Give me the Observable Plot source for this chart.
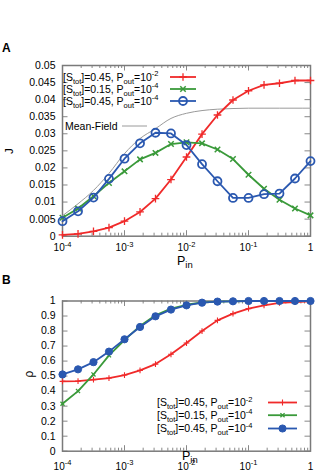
<!DOCTYPE html>
<html><head><meta charset="utf-8">
<script src="https://cdn.jsdelivr.net/npm/d3@7"></script>
<script src="https://cdn.jsdelivr.net/npm/@observablehq/plot@0.6"></script>
<style>
body{margin:0;background:#fff;font-family:"Liberation Sans",Arial,sans-serif}
#c svg{display:block}
</style>
</head><body><div id="c"></div>
<script>
// ---------- data ----------
const pin = [0.0001, 0.000178, 0.000316, 0.000562, 0.001, 0.00178, 0.00316, 0.00562, 0.01, 0.0178, 0.0316, 0.0562, 0.1, 0.178, 0.316, 0.562, 1];
// Panel A : J
const jRed   = [0.0004,0.0007,0.0014,0.0025,0.0044,0.0071,0.011,0.0166,0.0232,0.0299,0.0355,0.0399,0.0426,0.0443,0.0448,0.0456,0.0456];
const jGreen = [0.0054,0.0081,0.0117,0.0156,0.019,0.0225,0.0244,0.027,0.0275,0.0272,0.0254,0.0226,0.018,0.0139,0.0107,0.0081,0.0061];
const jBlue  = [0.0044,0.0073,0.0113,0.0168,0.0227,0.0272,0.0303,0.0301,0.0267,0.0211,0.0161,0.0112,0.0112,0.0123,0.0125,0.0169,0.022];
const mfJ    = [0.006,0.0095,0.0134,0.0184,0.0242,0.0286,0.0315,0.0345,0.036,0.0368,0.0372,0.0374,0.0375,0.0375,0.0375,0.0375,0.0375];
// Panel B : rho
const rRed   = [0.465,0.467,0.476,0.487,0.507,0.538,0.58,0.645,0.72,0.8,0.871,0.916,0.949,0.971,0.987,0.993,0.997];
const rGreen = [0.316,0.4,0.511,0.638,0.74,0.834,0.905,0.95,0.975,0.99,0.996,0.998,1,1,1,1,1];
const rBlue  = [0.511,0.545,0.593,0.663,0.745,0.827,0.898,0.943,0.971,0.989,0.996,0.998,1,1,1,1,1];
// ticks
const xTicks = [0.0001, 0.001, 0.01, 0.1, 1];
const xTickLabels = ["10^-4", "10^-3", "10^-2", "10^-1", "1"];
const yTicksA = [0,0.005,0.01,0.015,0.02,0.025,0.03,0.035,0.04,0.045,0.05];
const yTickLabelsA = ["0","0.005","0.01","0.015","0.02","0.025","0.03","0.035","0.04","0.045","0.05"];
const yTicksB = [0,0.1,0.2,0.3,0.4,0.5,0.6,0.7,0.8,0.9,1];
const yTickLabelsB = ["0","0.1","0.2","0.3","0.4","0.5","0.6","0.7","0.8","0.9","1"];
// legend
const seriesLabels = [
  [["[S",""],["tot","sub"],["]=0.45, P",""],["out","sub"],["=10",""],["-2","sup"]],
  [["[S",""],["tot","sub"],["]=0.15, P",""],["out","sub"],["=10",""],["-4","sup"]],
  [["[S",""],["tot","sub"],["]=0.45, P",""],["out","sub"],["=10",""],["-4","sup"]]
];
const mfLabel = "Mean-Field";
const colors = ["#f02a2a", "#3a9a3a", "#2a58b0"];
const GRAY = "#9a9a9a";
const FRAME = "#7a7a7a";

// ---------- helpers ----------
const W = 319, ML = 62, MR = 9;
const FONT = "Liberation Sans, Arial, sans-serif";
const xMinor = [];
for (const d of [0.0001, 0.001, 0.01, 0.1]) for (let k = 2; k <= 9; k++) xMinor.push(+(d*k).toPrecision(3));

function rich(sel, parts, small) {
  let shift = 0;
  for (const [s, k] of parts) {
    const target = k === "sub" ? 3 : k === "sup" ? -4.5 : 0;
    const t = sel.append("tspan").attr("dy", target - shift).text(s);
    if (k) t.attr("font-size", small);
    shift = target;
  }
}

function panel(o) {
  const fh = o.height - o.mt - o.mb, fw = W - ML - MR;
  const tick = {stroke: FRAME, strokeWidth: 0.9};
  const marks = [
    Plot.ruleX(xMinor, {insetTop: fh - 3, ...tick}),
    Plot.ruleX(xMinor, {insetBottom: fh - 3, ...tick}),
    Plot.ruleX(xTicks, {insetTop: fh - 5.5, ...tick}),
    Plot.ruleX(xTicks, {insetBottom: fh - 5.5, ...tick}),
    Plot.ruleY(o.yTicks, {insetRight: fw - 5.5, ...tick}),
    Plot.ruleY(o.yTicks, {insetLeft: fw - 5.5, ...tick}),
    Plot.frame({stroke: FRAME, strokeWidth: 1.5}),
    Plot.axisY({ticks: o.yTicks, tickSize: 0, tickPadding: 7, fontSize: 10.5,
      tickFormat: (d) => o.yLabels[o.yTicks.indexOf(d)], label: null}),
    Plot.axisX({ticks: xTicks, tickSize: 0, tickPadding: o.xPad, fontSize: 10,
      tickFormat: (d) => xTickLabels[xTicks.indexOf(d)], label: null}),
    ...o.marks
  ];
  const chart = Plot.plot({
    width: W, height: o.height, marginTop: o.mt, marginBottom: o.mb, marginLeft: ML, marginRight: MR,
    style: {fontFamily: FONT, fontSize: "10.5px", background: "white", color: "#000", overflow: "visible"},
    x: {type: "log", domain: [1e-4, 1]},
    y: {domain: o.yDomain},
    marks
  });
  const svg = d3.select(chart);
  svg.selectAll('[aria-label="x-axis tick label"] text').each(function () {
    const s = this.textContent;
    if (s.startsWith("10^")) {
      const t = d3.select(this);
      t.text("");
      rich(t, [["10", ""], [s.slice(3), "sup"]], 7.5);
    }
  });
  return {chart, svg};
}

function series(ys, i, sym, r, sw, fill) {
  const data = pin.map((x, k) => ({x, y: ys[k]}));
  return [
    Plot.line(data, {x: "x", y: "y", stroke: colors[i], strokeWidth: 1.8}),
    Plot.dot(data, {x: "x", y: "y", symbol: sym, r, stroke: colors[i], strokeWidth: sw, fill: fill ? colors[i] : "none"})
  ];
}

// ---------- Panel A ----------
const mfData = pin.map((x, k) => ({x, y: mfJ[k]}));
const A = panel({
  height: 270, mt: 65, mb: 34.3, yDomain: [0, 0.05], yTicks: yTicksA, yLabels: yTickLabelsA, xPad: 8,
  marks: [
    Plot.line(mfData, {x: "x", y: "y", stroke: GRAY, strokeWidth: 1, curve: "monotone-x"}),
    ...series(jRed, 0, "plus", 2.6, 1.3, false),
    ...series(jGreen, 1, "times", 2.6, 1.5, false),
    ...series(jBlue, 2, "circle", 4, 1.8, false)
  ]
});
// ---------- Panel B ----------
const B = panel({
  height: 203, mt: 30.5, mb: 22.3, yDomain: [0, 1], yTicks: yTicksB, yLabels: yTickLabelsB, xPad: 11.5,
  marks: [
    ...series(rRed, 0, "plus", 2, 1.1, false),
    ...series(rGreen, 1, "times", 2, 1.3, false),
    ...series(rBlue, 2, "circle", 3.6, 1, true)
  ]
});

// ---------- annotations ----------
function annotate(p, o) {
  const g = p.svg.append("g").attr("font-family", FONT).attr("fill", "#000").attr("text-anchor", "start");
  g.append("text").attr("x", 2).attr("y", o.letterY).attr("font-size", 12).attr("font-weight", "bold").text(o.letter);
  g.append("text").attr("transform", `translate(${o.ylx},${o.yly}) rotate(-90)`)
    .attr("text-anchor", "middle").attr("dy", "0.35em").attr("font-size", o.ylSize).text(o.ylabel);
  const px = g.append("text").attr("x", o.pinX).attr("y", o.pinY).attr("font-size", 12.5);
  rich(px, [["P", ""], ["in", "sub"]], 9.5);
  // legend
  o.legendY.forEach((yy, i) => {
    const t = g.append("text").attr("x", o.legendTextX).attr("y", yy + 3.6).attr("font-size", 10.5);
    rich(t, seriesLabels[i], 7.5);
    g.append("line").attr("x1", o.lx1).attr("x2", o.lx2).attr("y1", yy).attr("y2", yy)
      .attr("stroke", colors[i]).attr("stroke-width", 1.8);
  });
}
annotate(A, {letter: "A", letterY: 52, ylabel: "J", ylx: 9, yly: 151, ylSize: 11.5, pinX: 177, pinY: 265,
  legendY: [77, 89, 101], legendTextX: 63, lx1: 170, lx2: 196});
annotate(B, {letter: "B", letterY: 14, ylabel: "ρ", ylx: 29, yly: 104, ylSize: 12, pinX: 182, pinY: 190,
  legendY: [132.5, 145.2, 158.5], legendTextX: 157, lx1: 268, lx2: 297});

// legend markers drawn with the same symbols
const symA = [d3.symbolPlus, d3.symbolTimes, d3.symbolCircle];
function legendMarkers(p, ys, cx, sizes, fills, sws) {
  ys.forEach((yy, i) => {
    p.svg.append("path").attr("transform", `translate(${cx},${yy})`)
      .attr("d", d3.symbol(symA[i], sizes[i])())
      .attr("stroke", colors[i]).attr("stroke-width", sws[i]).attr("fill", fills[i] ? colors[i] : "none");
  });
}
legendMarkers(A, [77, 89, 101], 183, [21, 21, 50], [false, false, false], [1.3, 1.5, 1.8]);
legendMarkers(B, [132.5, 145.2, 158.5], 282.5, [13, 13, 40], [false, false, true], [1.1, 1.3, 1]);
// Mean-Field legend entry
const gA = A.svg.append("g").attr("font-family", FONT).attr("text-anchor", "start");
gA.append("text").attr("x", 65).attr("y", 129.8).attr("font-size", 10.5).text(mfLabel);
gA.append("line").attr("x1", 122).attr("x2", 147).attr("y1", 126).attr("y2", 126).attr("stroke", GRAY).attr("stroke-width", 1);

document.getElementById("c").append(A.chart, B.chart);
</script>
</body></html>
